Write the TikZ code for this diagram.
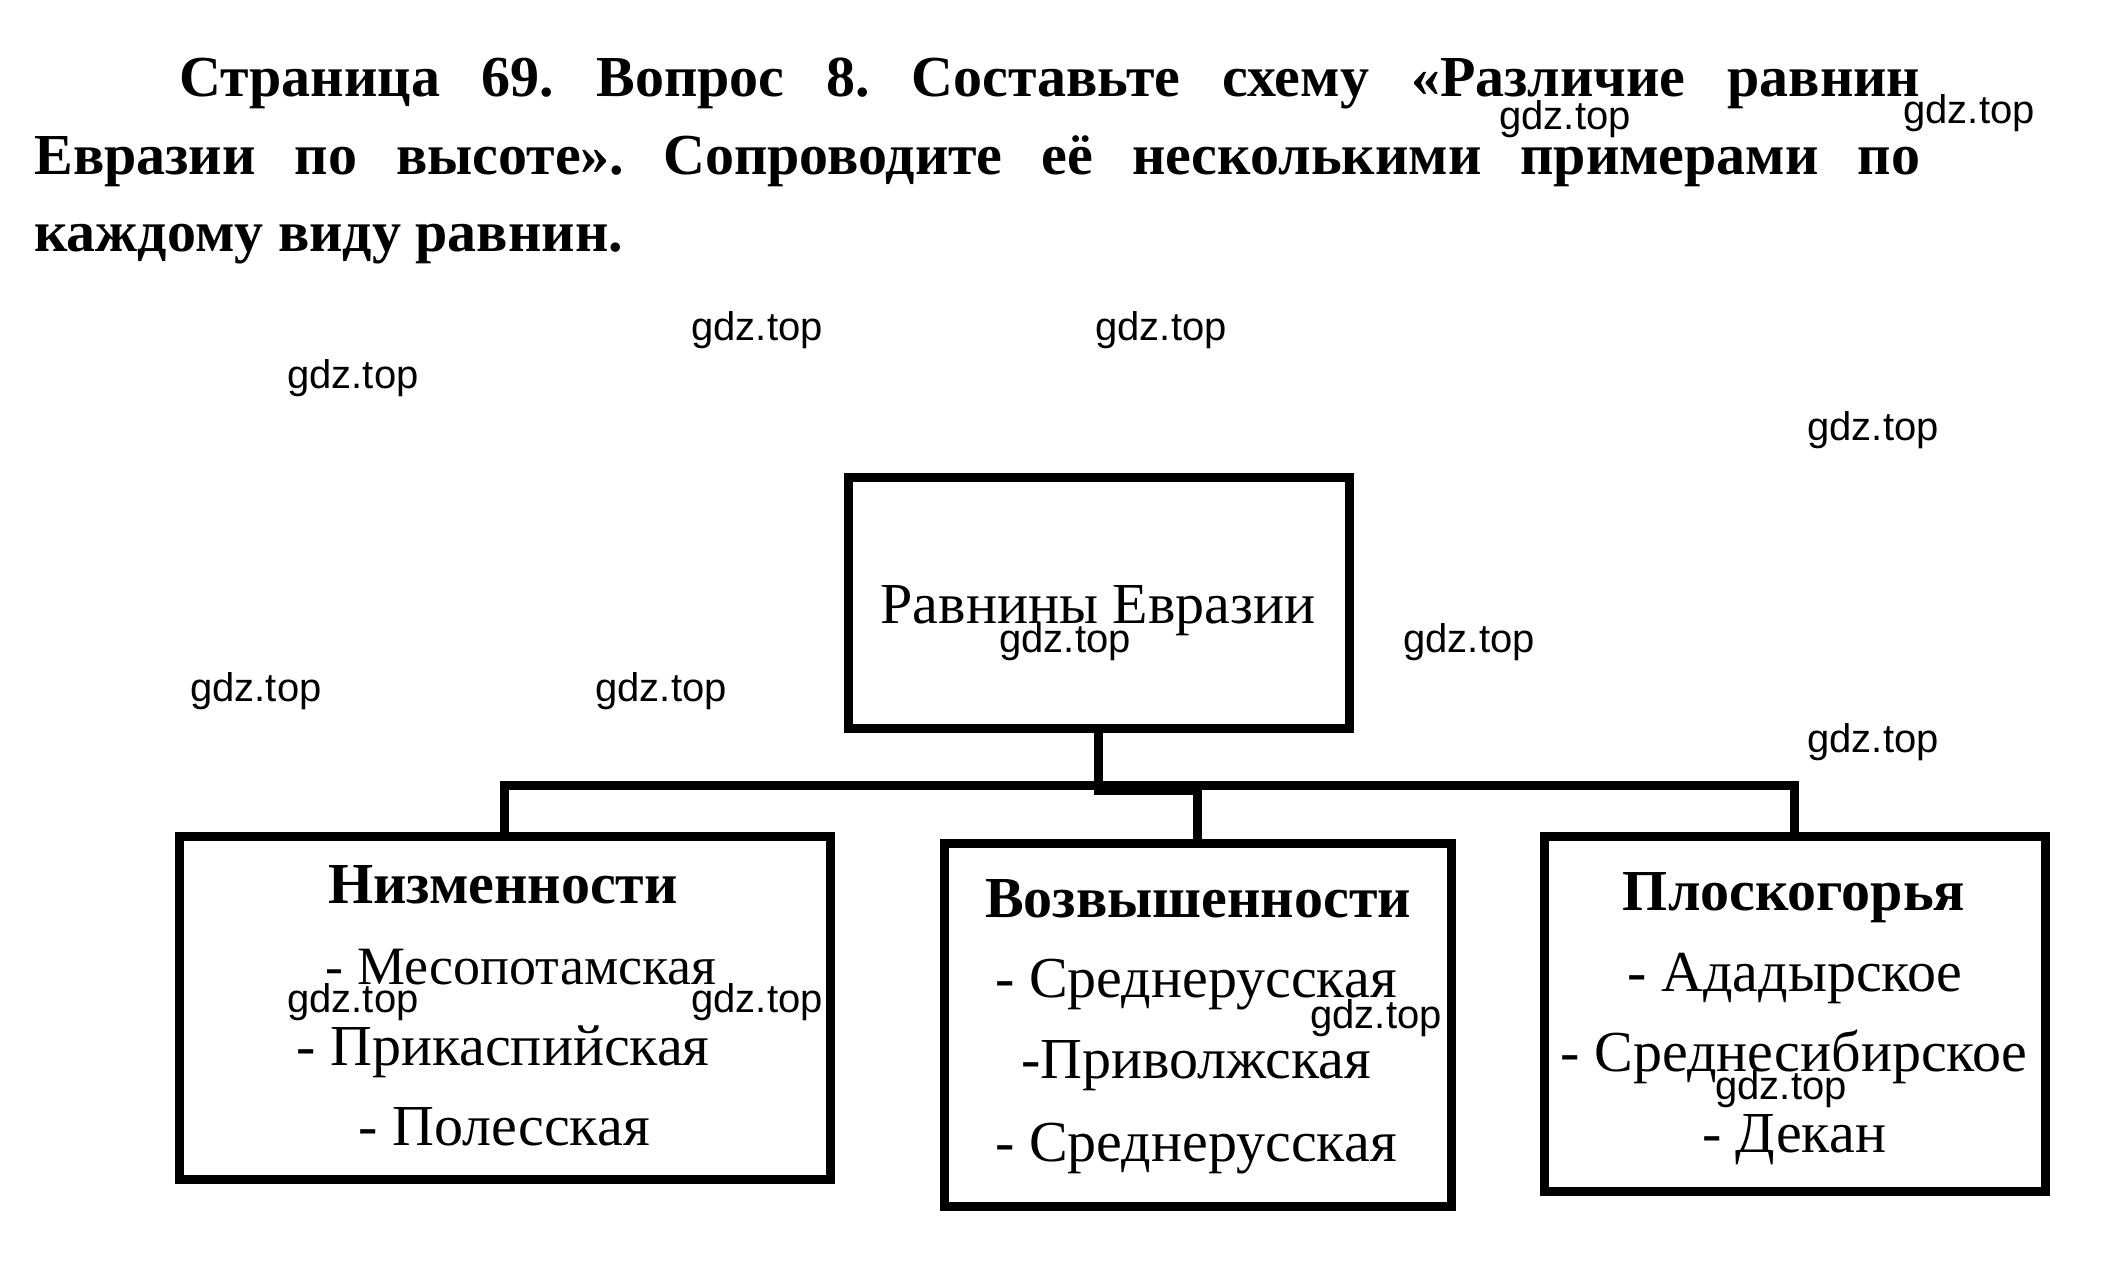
\documentclass[tikz,border=0pt]{standalone}
\usepackage{fontspec}
\setmainfont{Liberation Serif}
\newfontfamily\wmfont{Liberation Sans}
\frenchspacing
\begin{document}
\begin{tikzpicture}[x=0.5pt,y=-0.5pt,
  box/.style={draw=black,line width=4.5pt,inner sep=0pt,fill=none},
  line/.style={draw=black,line width=4.5pt},
  titl/.style={anchor=base west,inner sep=0pt,font=\fontsize{29pt}{35pt}\selectfont\bfseries},
  head/.style={anchor=base,inner sep=0pt,font=\fontsize{29pt}{34pt}\selectfont\bfseries},
  item/.style={anchor=base,inner sep=0pt,font=\fontsize{29pt}{34pt}\selectfont},
  wm/.style={inner sep=0pt,font=\wmfont\fontsize{20pt}{24pt}\selectfont}]
\useasboundingbox (0,0) rectangle (2105,1279);
\fill[white] (0,0) rectangle (2105,1279);
% title
\node[titl] (t1) at (179,97) {\makebox[870.5pt][s]{Страница 69. Вопрос 8. Составьте схему «Различие равнин}};
\node[titl] (t2) at (34,175) {\makebox[943pt][s]{Евразии по высоте». Сопроводите её несколькими примерами по}};
\node[titl] (t3) at (34,251) {каждому виду равнин.};
% boxes
\node[box,minimum width=250.5pt,minimum height=125.5pt] (root) at (1098.5,602.5) {};
\node[box,minimum width=325.5pt,minimum height=171.5pt] (low) at (504.5,1007.5) {};
\node[box,minimum width=253.5pt,minimum height=181.5pt] (high) at (1197.5,1024.5) {};
\node[box,minimum width=250.5pt,minimum height=177.5pt] (plat) at (1794.5,1013.5) {};
% connectors
\coordinate (bar) at (0,785);
\coordinate (bar2) at (0,790);
\draw[line] (low.north) -- (low.north |- bar) -- (plat.north |- bar) -- (plat.north);
\draw[line] (root.south) -- (root.south |- bar2) -- (high.north |- bar2) -- (high.north);
% texts
\node[item] (rt) at (1098,623) {Равнины Евразии};
\node[head] (lh) at (503,903) {Низменности};
\node[item,font=\fontsize{27pt}{32pt}\selectfont] (l1) at (521,984) {- Месопотамская};
\node[item] (l2) at (503,1065) {- Прикаспийская};
\node[item] (l3) at (504,1145) {- Полесская};
\node[head] (hh) at (1198,917) {Возвышенности};
\node[item] (h1) at (1196,997) {- Среднерусская};
\node[item] (h2) at (1196,1078) {-Приволжская};
\node[item] (h3) at (1196,1161) {- Среднерусская};
\node[head] (ph) at (1794,910) {Плоскогорья};
\node[item] (p1) at (1795,991) {- Ададырское};
\node[item] (p2) at (1794,1071) {- Среднесибирское};
\node[item] (p3) at (1794,1152) {- Декан};
% watermarks
\node[wm] (w1) at (1565,119) {gdz.top};
\node[wm] (w2) at (1969,113) {gdz.top};
\node[wm] (w3) at (757,330) {gdz.top};
\node[wm] (w4) at (1161,330) {gdz.top};
\node[wm] (w5) at (353,378) {gdz.top};
\node[wm] (w6) at (1873,430) {gdz.top};
\node[wm] (w7) at (1065,642) {gdz.top};
\node[wm] (w8) at (1469,642) {gdz.top};
\node[wm] (w9) at (256,691) {gdz.top};
\node[wm] (w10) at (661,691) {gdz.top};
\node[wm] (w11) at (1873,742) {gdz.top};
\node[wm] (w12) at (353,1002) {gdz.top};
\node[wm] (w13) at (757,1002) {gdz.top};
\node[wm] (w14) at (1376,1018) {gdz.top};
\node[wm] (w15) at (1781,1089) {gdz.top};
\end{tikzpicture}
\end{document}
